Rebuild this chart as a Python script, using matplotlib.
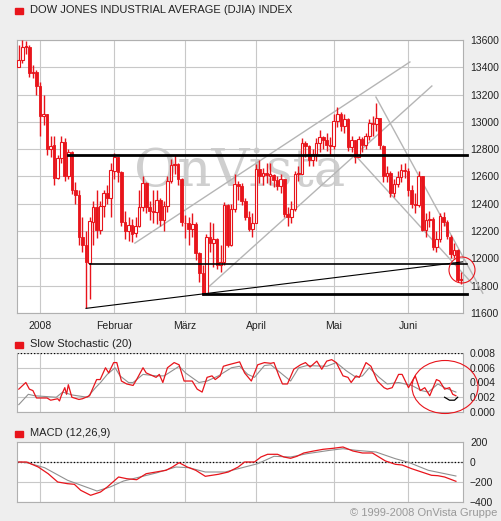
import matplotlib
matplotlib.use('Agg')
import matplotlib.pyplot as plt
from matplotlib.patches import Ellipse, Rectangle

W, H = 501, 521

# --- daily candles, 21.12.2007 .. 23.06.2008 ---
closes = [13450,13550,13551,13360,13365,13265,
          13044,13056,12800,12827,12589,12735,12853,12606,12778,12501,12466,12159,12099,11971,12271,12378,12207,12383,12480,12443,12650,
          12743,12635,12265,12200,12248,12182,12240,12373,12552,12376,12348,12337,12427,12284,12381,12570,12684,12694,12582,12266,
          12258,12213,12254,12040,11893,11740,12156,12110,12145,11951,11972,12392,12099,12361,12548,12533,12422,12303,12216,12263,
          12654,12605,12626,12609,12612,12577,12527,12581,12325,12302,12362,12620,12620,12849,12825,12721,12763,12849,12891,12871,12831,12820,
          13010,13058,12969,13021,12814,12866,12745,12876,12832,12898,12992,12986,13028,12828,12601,12625,12479,12548,12594,12647,12638,
          12503,12402,12390,12604,12209,12280,12289,12084,12141,12307,12269,12161,12029,12064,11843,11842]
opens = [13400,13450,13550,13550,13360,13365,
         13261,13043,13056,12800,12828,12590,12736,12852,12606,12777,12501,12466,12159,12095,11969,12270,12378,12205,12385,12480,12441,
         12638,12743,12635,12264,12200,12247,12183,12241,12373,12551,12376,12348,12337,12426,12283,12381,12570,12684,12692,12581,
         12262,12258,12212,12252,12039,11894,11741,12156,12110,12145,11950,11972,12391,12099,12361,12547,12532,12422,12302,12215,
         12262,12654,12605,12626,12607,12612,12576,12527,12582,12324,12302,12363,12619,12620,12847,12825,12720,12763,12848,12890,12870,12831,
         12820,13010,13057,12968,13020,12814,12866,12744,12876,12831,12897,12991,12986,13027,12827,12600,12624,12480,12547,12593,12645,
         12637,12502,12401,12390,12602,12207,12280,12288,12083,12140,12306,12268,12160,12028,12063,11841]
highs = [13560,13600,13590,13560,13420,13380,
         13290,13200,13060,12900,12900,12760,12900,12880,12800,12790,12560,12500,12300,12200,12300,12420,12500,12420,12500,12540,12700,
         12770,12740,12640,12350,12300,12290,12300,12500,12600,12560,12420,12500,12500,12440,12420,12600,12730,12760,12700,12590,
         12320,12300,12330,12270,12050,11950,12180,12270,12260,12150,12100,12410,12400,12400,12620,12570,12550,12440,12350,12330,
         12690,12720,12660,12700,12700,12620,12600,12620,12580,12380,12420,12640,12680,12880,12860,12830,12800,12880,12940,12900,12920,12890,
         13060,13110,13070,13060,13030,12900,12870,12900,12890,12920,13020,13040,13140,13030,12830,12680,12640,12580,12640,12690,12700,
         12660,12540,12480,12640,12600,12330,12350,12300,12200,12330,12340,12280,12170,12110,12070,11900]
lows = [13400,13430,13500,13330,13320,13200,
        12900,12980,12760,12740,12540,12580,12700,12570,12580,12470,12400,12100,12050,11634,11700,12100,12150,12180,12300,12400,12300,
        12580,12560,12240,12140,12130,12120,12160,12230,12350,12330,12280,12260,12250,12240,12200,12340,12550,12620,12540,12240,
        12150,12100,12160,11990,11830,11731,11760,12050,11940,11920,11900,11950,12080,12090,12340,12430,12390,12280,12200,12160,
        12260,12550,12540,12550,12540,12520,12500,12480,12300,12240,12260,12350,12570,12620,12740,12680,12680,12710,12780,12800,12790,12760,
        12800,12960,12930,12920,12790,12780,12700,12740,12780,12800,12870,12900,12930,12800,12560,12560,12450,12450,12520,12560,12590,
        12460,12370,12330,12380,12200,12160,12230,12060,12050,12120,12240,12140,12000,12000,11830,11810]

month_idx = [6, 27, 47, 67, 89, 110]
month_labels = ['2008', 'Februar', 'März', 'April', 'Mai', 'Juni']
price_ticks = [11600, 11800, 12000, 12200, 12400, 12600, 12800, 13000, 13200, 13400, 13600]

# horizontal support / resistance levels and trend lines (day, price)
hlines = [(14, 12760, 2.0), (20, 11960, 1.2), (52, 11740, 2.0)]
support_line = [(19, 125.5), (11634, 11975)]
gray_lines = [[(32.8, 110.5), (12112, 13439)],
              [(52.6, 116.7), (11767, 13263)],
              [(100.9, 131.1), (13182, 11745)],
              [(95.0, 128.0), (12757, 11819)]]

# --- Slow Stochastic (values in 1/1000) ---
sto_x = [0,2,3,4,5,8,9,11,11.5,12,13,13.5,14,15,17,18,20,22,23,24.5,25.4,26.8,27.7,29,30.5,32.3,33.3,35.1,36,38.8,39.7,40.7,42,43.9,45.3,46.7,49,50.4,51.8,53.2,54.6,55.5,56.9,57.8,59.2,62.4,63.8,65.7,67.5,69.4,71.2,72.1,73.5,74.5,75.9,77.7,79.6,81,82.3,84.2,85.6,87,88.4,89.7,91.6,93,93.9,95.3,96.2,98.1,99.5,101.3,103.2,104.1,105.5,107.3,108.3,110.1,112,113.4,114.7,116.1,118,118.9,120.3,121.7,122.6,123.5]
sto_red = [3.1,4.0,3.1,2.9,1.9,1.9,1.6,1.8,1.5,2.2,3.3,2.4,3.7,2.0,1.7,1.8,2.2,4.4,4.4,6.0,5.3,6.7,6.7,4.2,3.8,3.6,4.4,6.0,5.3,4.7,5.1,4.0,6.0,6.7,6.4,4.2,4.2,3.1,2.7,4.7,4.9,4.4,4.9,6.2,6.4,6.8,5.3,4.2,6.4,6.7,6.6,6.7,4.9,3.8,3.8,5.8,6.4,6.7,6.1,6.9,5.8,6.9,7.1,6.7,4.9,4.7,4.0,4.9,4.7,6.7,6.2,4.2,3.3,3.1,3.3,5.1,5.1,3.3,4.9,2.9,3.3,2.2,4.4,4.2,3.1,3.3,2.4,2.2]
sto_gx = [0,2.7,4.5,10.6,12.4,15.2,19.4,21.7,23.1,25,27.2,28.6,31,32.3,35.1,38.8,41.1,45.3,47.1,50.9,53.2,56.4,60.1,62.4,64.7,66.6,69.4,71.2,74,76.8,79.1,81.4,87,89.7,92.5,95.3,97.1,99,101.8,104.1,107.3,111,113.8,115.7,118.4,120.3,123.5]
sto_gray = [1.0,2.4,2.2,2.0,2.7,2.3,2.0,3.3,4.0,5.1,6.0,4.9,4.0,4.0,5.1,4.9,4.9,6.2,5.3,4.0,4.2,4.9,6.0,6.2,5.1,4.7,6.3,6.4,5.3,4.2,6.0,6.3,6.2,6.7,5.6,4.7,4.9,6.0,4.7,3.8,4.0,3.6,2.9,2.7,3.8,3.3,2.7]
sto_bx = [120.3, 121.7, 123.1, 124.0]
sto_black = [2.0, 1.6, 1.6, 2.0]

# --- MACD (12,26,9) ---
macd_x = [0,2.2,5.5,8.3,11,13.8,15.7,17.5,20.3,23.1,25,28.2,30.5,33.3,36,38.8,41.6,43.4,45.3,47.6,50,52.7,56.4,59.2,62,63.8,66.6,68.4,70.3,73.1,74.9,76.8,78.6,80.5,83.3,86,88.8,91.6,94.4,97.1,99.9,103.6,106.4,108.3,111,113.8,116.6,118.4,120.3,123.5]
macd_red = [0,0,-50,-117,-200,-217,-223,-283,-333,-300,-250,-150,-167,-177,-117,-100,-83,-50,-7,-50,-83,-143,-123,-100,-50,0,0,50,77,77,50,37,57,90,110,127,137,150,110,90,90,10,-23,-30,-67,-100,-133,-137,-150,-193]
sig_x = [0,2.7,7.3,13.8,22.1,25.8,29.6,34.2,38.8,44.4,48.1,52.7,58.3,62,67.5,72.1,76.8,81.4,87.9,91.6,95.3,100.9,106.4,110.1,115.7,123.5]
macd_sig = [0,-10,-57,-183,-290,-250,-190,-150,-110,-50,-57,-100,-100,-67,-17,57,50,83,117,133,117,100,33,-3,-83,-140]

RED = '#e8141b'
GRID = '#c8c8c8'
BG = '#eeeeee'
XLIM = (-0.5, 125.5)

plt.rcParams['font.family'] = ['Liberation Sans', 'DejaVu Sans']
fig = plt.figure(figsize=(W / 100, H / 100), dpi=100, facecolor=BG)


def px_axes(left, top, right, bottom):
    return fig.add_axes([left / W, 1 - bottom / H, (right - left) / W, (bottom - top) / H])


def style(ax):
    ax.set_facecolor('white')
    for s in ax.spines.values():
        s.set_color('#b0b0b0')
        s.set_linewidth(0.8)
    ax.set_xlim(*XLIM)
    ax.set_xticks(month_idx)
    ax.grid(True, color=GRID, linewidth=0.8)
    ax.set_axisbelow(True)
    ax.yaxis.tick_right()
    ax.tick_params(length=0, labelsize=7.5, pad=5, colors='#222222')


def label(y, text):
    fig.patches.append(Rectangle((15 / W, 1 - (y + 4) / H), 8 / W, 6 / H,
                                 transform=fig.transFigure, color=RED))
    fig.text(30 / W, 1 - y / H, text, fontsize=8, va='center', color='#222222')


# ---------------- main chart ----------------
ax = px_axes(17, 40, 463, 313)
style(ax)
ax.set_ylim(11600, 13600)
ax.set_yticks(price_ticks)
ax.set_xticklabels(month_labels)
ax.tick_params(axis='x', pad=6)

ax.text(0.5, 0.52, 'OnVista', transform=ax.transAxes, fontsize=38, family='DejaVu Serif',
        color='#cfcfcf', ha='center', va='center', zorder=0.5)

for i in range(len(closes)):
    o, c = opens[i], closes[i]
    hi, lo = max(highs[i], o, c), min(lows[i], o, c)
    ax.vlines(i, lo, hi, color=RED, linewidth=1.0, zorder=3)
    if c < o:
        ax.bar(i, o - c, bottom=c, width=0.75, color=RED, edgecolor=RED, linewidth=0.6, zorder=4)
    else:
        ax.bar(i, max(c - o, 8), bottom=o, width=0.75, color='white', edgecolor=RED, linewidth=0.8, zorder=4)

for x0, y, lw in hlines:
    ax.plot([x0, XLIM[1] + 1.2], [y, y], color='black', linewidth=lw, clip_on=False, zorder=5)
ax.plot(support_line[0], support_line[1], color='black', linewidth=0.8, zorder=5)
for xs, ys in gray_lines:
    ax.plot(xs, ys, color='#b5b5b5', linewidth=1.0, zorder=2, clip_on=False)

fig.patches.append(Ellipse((462 / W, 1 - 270 / H), 26 / W, 26 / H, transform=fig.transFigure,
                           fill=False, edgecolor=RED, linewidth=0.8))
label(10, 'DOW JONES INDUSTRIAL AVERAGE (DJIA) INDEX')

# ---------------- slow stochastic ----------------
ax2 = px_axes(17, 353, 463, 412)
style(ax2)
ax2.set_ylim(0, 8)
ax2.set_yticks([0, 2, 4, 6, 8])
ax2.set_yticklabels(['0.000', '0.002', '0.004', '0.006', '0.008'])
ax2.set_xticklabels([])
ax2.axhline(8, color='black', linestyle=':', linewidth=0.9)
ax2.spines['top'].set_visible(False)
ax2.plot(sto_gx, sto_gray, color='#909090', linewidth=0.8)
ax2.plot(sto_x, sto_red, color=RED, linewidth=0.9)
ax2.plot(sto_bx, sto_black, color='black', linewidth=0.9)
fig.patches.append(Ellipse((445 / W, 1 - 387 / H), 66 / W, 53 / H, transform=fig.transFigure,
                           fill=False, edgecolor=RED, linewidth=0.8))
label(344, 'Slow Stochastic (20)')

# ---------------- MACD ----------------
ax3 = px_axes(17, 442, 463, 502)
style(ax3)
ax3.set_ylim(-400, 200)
ax3.set_yticks([-400, -200, 0, 200])
ax3.set_xticklabels([])
ax3.axhline(0, color='black', linestyle=':', linewidth=0.9)
ax3.plot(sig_x, macd_sig, color='#909090', linewidth=0.8)
ax3.plot(macd_x, macd_red, color=RED, linewidth=0.9)
label(433, 'MACD (12,26,9)')

fig.text(497 / W, 1 - 513 / H, '© 1999-2008 OnVista Gruppe', fontsize=8,
         color='#999999', ha='right', va='center')

fig.savefig('out.png', dpi=100, facecolor=BG)
